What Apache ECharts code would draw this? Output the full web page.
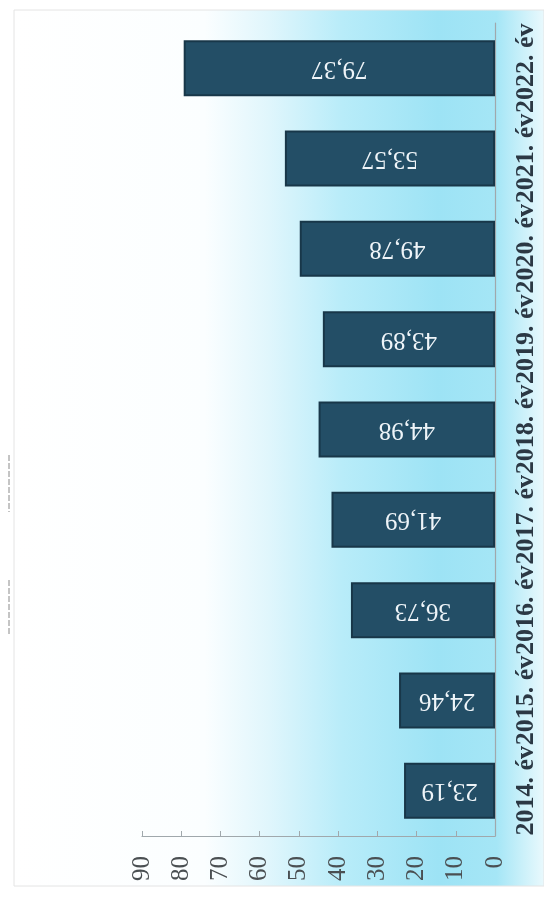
<!DOCTYPE html>
<html>
<head>
<meta charset="utf-8">
<script src="https://cdn.jsdelivr.net/npm/echarts@6/dist/echarts.min.js"></script>
<style>
html,body{margin:0;padding:0;background:#fff;}
#c{width:544px;height:898px;}
</style>
</head>
<body>
<div id="c"></div>
<script>
const categories = ['2014. év','2015. év','2016. év','2017. év','2018. év','2019. év','2020. év','2021. év','2022. év'];
const values = [23.19, 24.46, 36.73, 41.69, 44.98, 43.89, 49.78, 53.57, 79.37];
const valueTicks = [0, 10, 20, 30, 40, 50, 60, 70, 80, 90];

const SERIF = '"Liberation Serif", "Times New Roman", Times, serif';
const chart = echarts.init(document.getElementById('c'), null, {renderer: 'canvas'});
const option = {
  animation: false,
  backgroundColor: '#ffffff',
  graphic: [
    {
      type: 'rect', z: -10, silent: true,
      shape: {x: 14, y: 10, width: 530, height: 876},
      style: {
        fill: {
          type: 'linear', x: 0, y: 0, x2: 1, y2: 0,
          colorStops: [
            {offset: 0, color: '#ffffff'},
            {offset: 0.36, color: '#fbfeff'},
            {offset: 0.48, color: '#e0f6fc'},
            {offset: 0.62, color: '#b8ecf9'},
            {offset: 0.8, color: '#9de3f5'},
            {offset: 0.91, color: '#a5e6f6'},
            {offset: 1, color: '#eaf9fd'}
          ]
        },
        stroke: '#e4e4e4', lineWidth: 1
      }
    },
    {
      type: 'line', silent: true,
      shape: {x1: 9, y1: 455, x2: 9, y2: 512},
      style: {stroke: '#8a8a8a', lineWidth: 1, lineDash: [6, 2]}
    },
    {
      type: 'line', silent: true,
      shape: {x1: 9, y1: 580, x2: 9, y2: 636},
      style: {stroke: '#8a8a8a', lineWidth: 1, lineDash: [6, 2]}
    }
  ],
  grid: {left: 142, right: 49, top: 23, bottom: 62, containLabel: false},
  xAxis: {
    type: 'value',
    inverse: true,
    min: valueTicks[0],
    max: valueTicks[valueTicks.length - 1],
    interval: 10,
    position: 'bottom',
    splitLine: {show: false},
    axisLine: {show: true, lineStyle: {color: '#a0a8ac', width: 1.2}},
    axisTick: {show: true, inside: true, length: 5, lineStyle: {color: '#a0a8ac'}},
    axisLabel: {
      rotate: 90,
      margin: 20,
      color: '#4a4f52',
      fontFamily: SERIF,
      fontSize: 25
    }
  },
  yAxis: {
    type: 'category',
    data: categories,
    position: 'right',
    axisLine: {show: true, lineStyle: {color: '#a0a8ac', width: 1.2}},
    axisTick: {show: false},
    axisLabel: {
      interval: 0,
      rotate: 90,
      margin: 18,
      color: '#2b3844',
      fontFamily: SERIF,
      fontWeight: 'bold',
      fontSize: 26
    }
  },
  series: [{
    type: 'bar',
    data: values,
    barWidth: 56,
    itemStyle: {
      color: '#234e66',
      borderColor: '#183749',
      borderWidth: 2
    },
    label: {
      show: true,
      position: 'inside',
      rotate: 180,
      color: '#eef4f8',
      fontFamily: SERIF,
      fontSize: 25,
      formatter: p => p.value.toFixed(2).replace('.', ',')
    }
  }]
};
chart.setOption(option);
</script>
</body>
</html>
